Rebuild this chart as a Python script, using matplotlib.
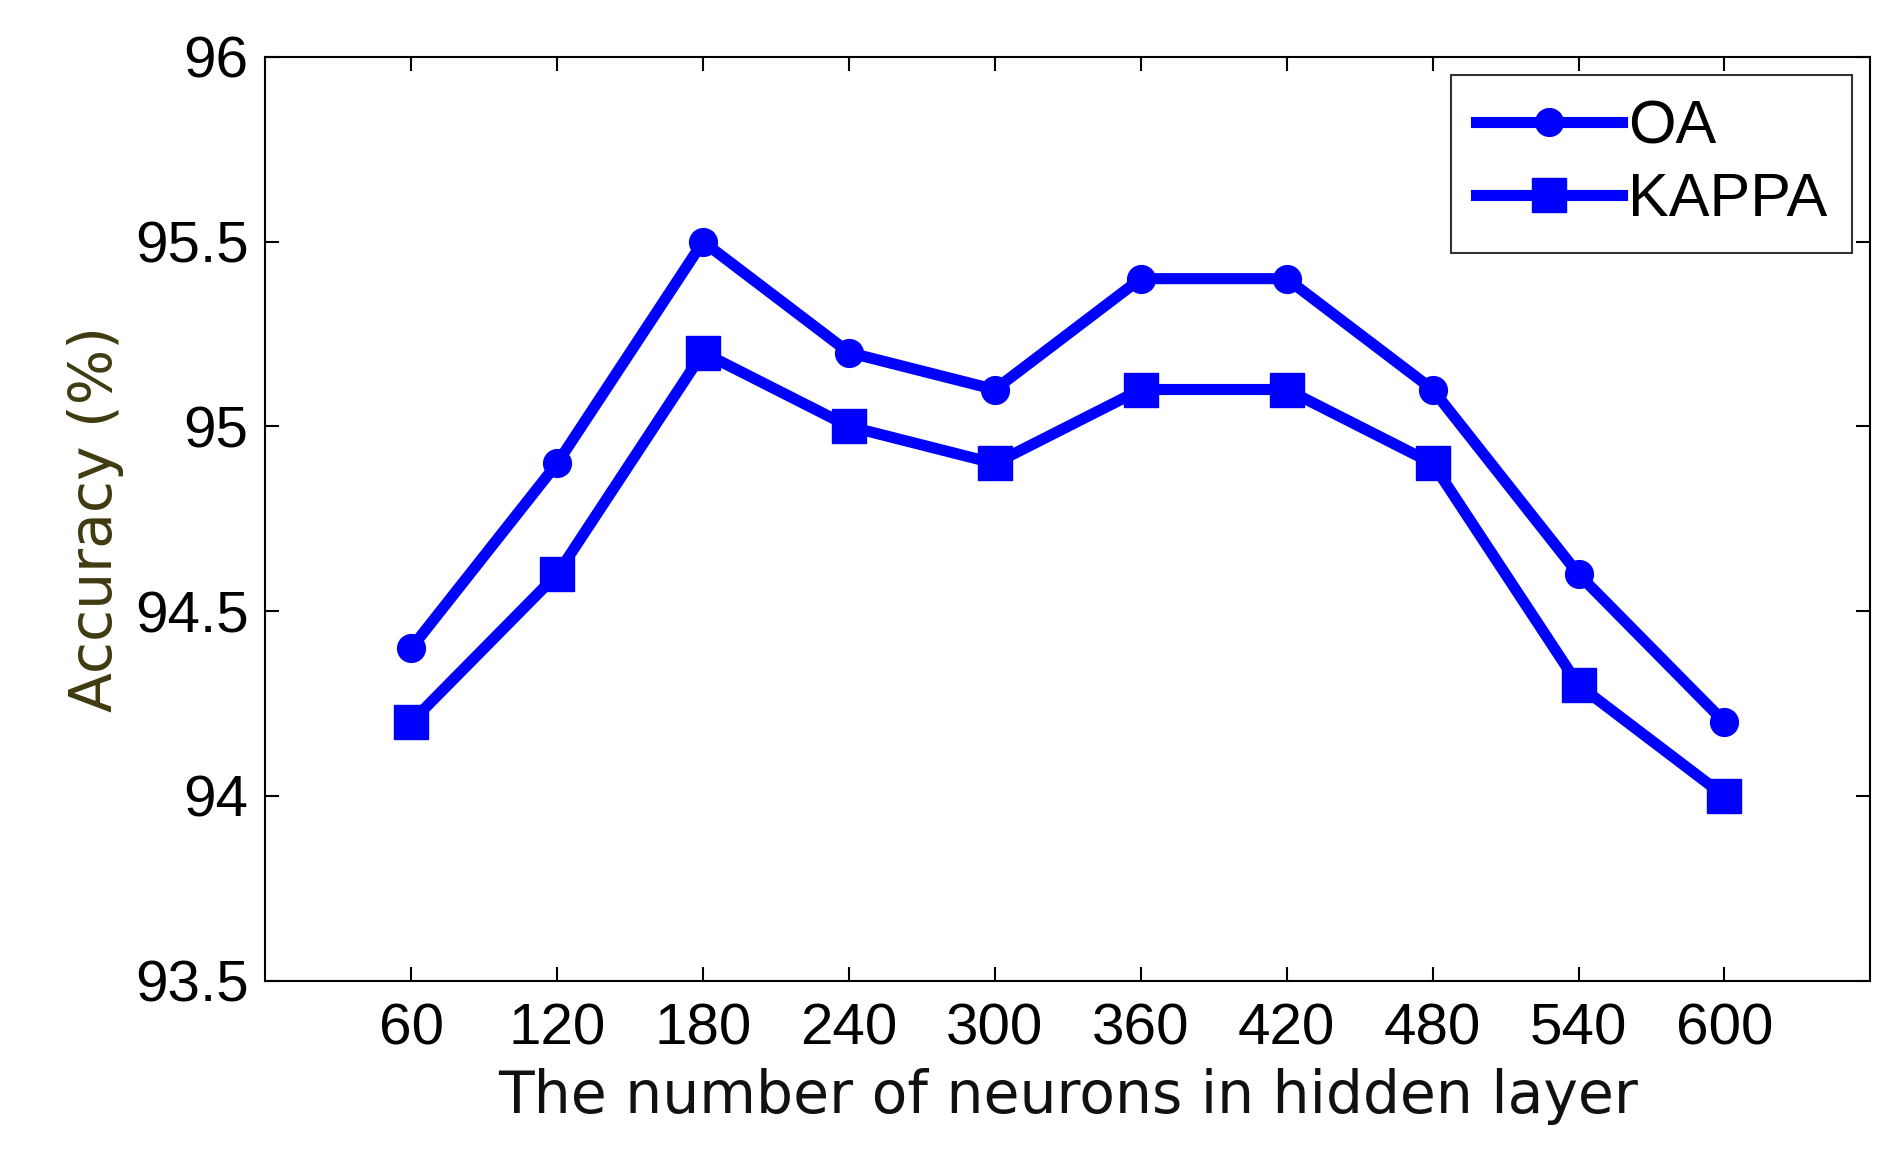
import matplotlib.pyplot as plt

neurons = [60, 120, 180, 240, 300, 360, 420, 480, 540, 600]
oa = [94.4, 94.9, 95.5, 95.2, 95.1, 95.4, 95.4, 95.1, 94.6, 94.2]
kappa = [94.2, 94.6, 95.2, 95.0, 94.9, 95.1, 95.1, 94.9, 94.3, 94.0]

plt.rcParams["font.family"] = ["Liberation Sans", "DejaVu Sans"]

fig = plt.figure(figsize=(18.95, 11.62), dpi=100)
ax = fig.add_axes([0.14, 0.156, 0.847, 0.795])

ax.plot(neurons, oa, "-o", color="#0000ff", lw=8, ms=20, label="OA")
ax.plot(neurons, kappa, "-s", color="#0000ff", lw=8, ms=24, label="KAPPA")

ax.set_xlim(0, 660)
ax.set_ylim(93.5, 96)
ax.set_xticks(neurons)
ax.set_yticks([93.5, 94, 94.5, 95, 95.5, 96])
ax.set_yticklabels(["93.5", "94", "94.5", "95", "95.5", "96"])
ax.tick_params(direction="in", labelsize=42, length=10, width=1.5,
               top=True, right=True)
ax.tick_params(axis="x", pad=16)
ax.tick_params(axis="y", pad=12)
for s in ax.spines.values():
    s.set_linewidth(1.5)

ax.set_xlabel("The number of neurons in hidden layer", fontsize=42,
              family="DejaVu Sans", color="#111111", labelpad=8)
ax.set_ylabel("Accuracy (%)", fontsize=42, family="DejaVu Sans",
              color="#3f3a10", labelpad=8)

leg = ax.legend(loc="upper right", fontsize=44, fancybox=False,
                edgecolor="black", handlelength=2.4, handletextpad=0.1,
                borderaxespad=0.3, labelspacing=0.25)
leg.get_frame().set_linewidth(1.5)

fig.savefig("out.png")
